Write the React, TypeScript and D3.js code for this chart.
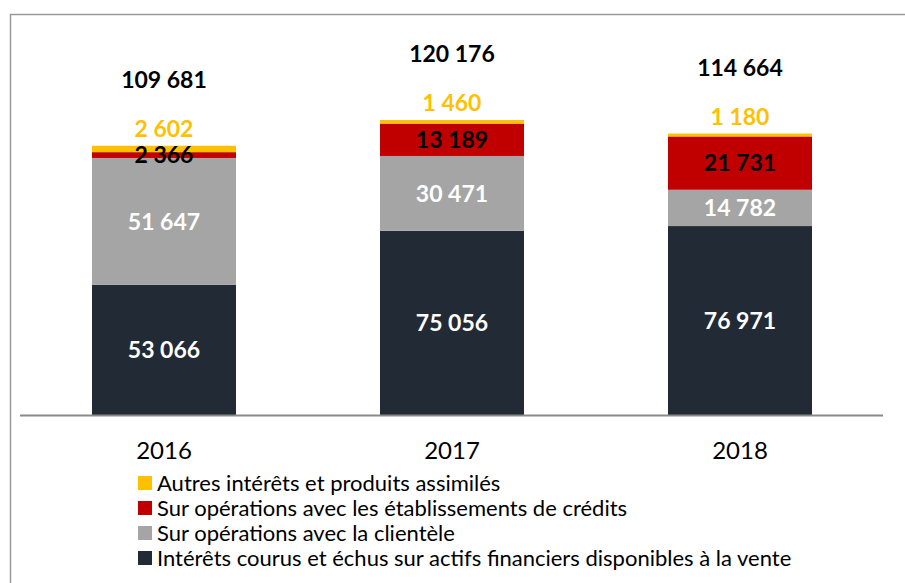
import React, { useEffect, useRef } from "react";
import * as d3 from "d3";

const years = ["2016", "2017", "2018"];
const seriesNames = [
  "Intérêts courus et échus sur actifs financiers disponibles à la vente",
  "Sur opérations avec la clientèle",
  "Sur opérations avec les établissements de crédits",
  "Autres intérêts et produits assimilés",
];
const seriesColors = ["#222A35", "#A5A5A5", "#C00000", "#FFC000"];
const labelColors = ["#FFFFFF", "#FFFFFF", "#000000", "#FFC000"];
const interetsCourus = [53066, 75056, 76971];
const clientele = [51647, 30471, 14782];
const etablissements = [2366, 13189, 21731];
const autres = [2602, 1460, 1180];
const totals = [109681, 120176, 114664];

const fmt = (v: number) => d3.format(",")(v).replace(/,/g, " ");

const App = () => {
  const svgRef = useRef<SVGSVGElement>(null);

  useEffect(() => {
    const svg = d3.select(svgRef.current);
    svg.selectAll("*").remove();

    const width = 905;
    const height = 583;
    const font = "Lato, 'Open Sans', sans-serif";

    // chart frame (runs off the right/bottom edge like the source)
    svg
      .append("rect")
      .attr("x", 10.5)
      .attr("y", 14.5)
      .attr("width", 1000)
      .attr("height", 1000)
      .attr("fill", "none")
      .attr("stroke", "#9A9A9A")
      .attr("stroke-width", 1.5);

    const x = d3.scaleBand().domain(years).range([20, 884]).paddingInner(0.5).paddingOuter(0.25);
    const y = d3.scaleLinear().domain([0, 120176]).range([415, 120]);

    const rows = years.map((yr, i) => ({
      year: yr,
      values: [interetsCourus[i], clientele[i], etablissements[i], autres[i]],
    }));
    const stacked = d3
      .stack<any>()
      .keys([0, 1, 2, 3] as any)
      .value((d: any, k: any) => d.values[k])(rows);

    stacked.forEach((layer, si) => {
      svg
        .append("g")
        .selectAll("rect")
        .data(layer)
        .enter()
        .append("rect")
        .attr("x", (d: any) => x(d.data.year)!)
        .attr("width", x.bandwidth())
        .attr("y", (d) => y(d[1]))
        .attr("height", (d) => y(d[0]) - y(d[1]))
        .attr("fill", seriesColors[si]);
    });

    // segment labels
    stacked.forEach((layer, si) => {
      svg
        .append("g")
        .selectAll("text")
        .data(layer)
        .enter()
        .append("text")
        .attr("x", (d: any) => x(d.data.year)! + x.bandwidth() / 2)
        .attr("y", (d) => (si === 3 ? y(d[1]) - 17 : (y(d[0]) + y(d[1])) / 2))
        .attr("dy", "0.36em")
        .attr("text-anchor", "middle")
        .style("font-family", font)
        .style("font-size", "23px")
        .style("font-weight", "700")
        .style("fill", labelColors[si])
        .text((d) => fmt(d[1] - d[0]));
    });

    // totals
    svg
      .append("g")
      .selectAll("text")
      .data(years)
      .enter()
      .append("text")
      .attr("x", (d) => x(d)! + x.bandwidth() / 2)
      .attr("y", (d, i) => y(totals[i]) - 66)
      .attr("dy", "0.36em")
      .attr("text-anchor", "middle")
      .style("font-family", font)
      .style("font-size", "23px")
      .style("font-weight", "700")
      .style("fill", "#000")
      .text((d, i) => fmt(totals[i]));

    // axis line
    svg
      .append("line")
      .attr("x1", 20)
      .attr("x2", 883)
      .attr("y1", 415.5)
      .attr("y2", 415.5)
      .attr("stroke", "#898989")
      .attr("stroke-width", 2);

    svg
      .append("g")
      .selectAll("text")
      .data(years)
      .enter()
      .append("text")
      .attr("x", (d) => x(d)! + x.bandwidth() / 2)
      .attr("y", 450)
      .attr("dy", "0.36em")
      .attr("text-anchor", "middle")
      .style("font-family", font)
      .style("font-size", "24px")
      .style("fill", "#000")
      .text((d) => d);

    // legend
    const legendOrder = [3, 2, 1, 0];
    const lg = svg
      .append("g")
      .selectAll("g")
      .data(legendOrder)
      .enter()
      .append("g")
      .attr("transform", (d, i) => `translate(138,${483 + i * 25})`);
    lg.append("rect")
      .attr("x", 0)
      .attr("y", -7)
      .attr("width", 14)
      .attr("height", 14)
      .attr("fill", (d) => seriesColors[d]);
    lg.append("text")
      .attr("x", 19)
      .attr("y", 0)
      .attr("dy", "0.36em")
      .style("font-family", font)
      .style("font-size", "22px")
      .style("fill", "#000")
      .text((d) => seriesNames[d]);

    svg.attr("width", width).attr("height", height);
  }, []);

  return (
    <div style={{ position: "absolute", left: 0, top: 0, background: "#fff" }}>
      <svg ref={svgRef} style={{ display: "block" }}></svg>
    </div>
  );
};

export default App;
